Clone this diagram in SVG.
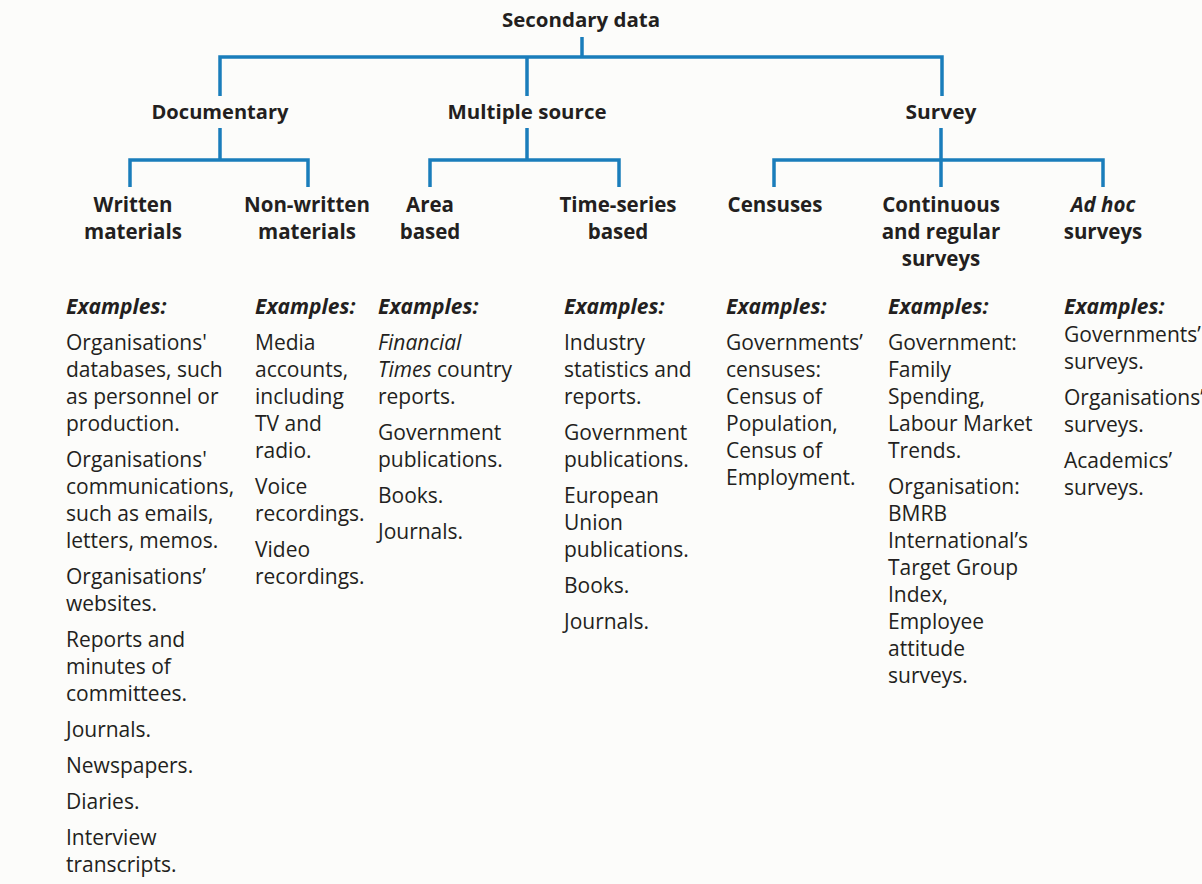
<svg xmlns="http://www.w3.org/2000/svg" width="1202" height="884" viewBox="0 0 1202 884">
  <style>
    text { font-family: "Open Sans", "Noto Sans", "Liberation Sans", sans-serif; fill: #231f20; }
    .h1 { font-size: 20px; font-weight: 700; text-anchor: middle; }
    .h2 { font-size: 20.5px; font-weight: 700; text-anchor: middle; }
    .ex { font-size: 21px; font-weight: 700; font-style: italic; }
    .b { font-size: 21px; }
    .it { font-style: italic; }
    .conn { fill: none; stroke: #1a7dbb; stroke-width: 3.5; stroke-linecap: butt; stroke-linejoin: miter; }
  </style>
  <rect width="1202" height="884" fill="#fcfcfa"/>

  <!-- tree connectors -->
  <g id="connectors" class="conn">
    <path d="M582,37 V57"/>
    <path d="M220,96 V57 H942 V96"/>
    <path d="M527,57 V96"/>
    <path d="M220,128 V160"/>
    <path d="M130,187 V160 H308 V187"/>
    <path d="M527,128 V160"/>
    <path d="M430,187 V160 H619 V187"/>
    <path d="M941,128 V187"/>
    <path d="M774,187 V160 H1103 V187"/>
  </g>

  <!-- root -->
  <g id="secondary-data">
    <text class="h1" x="581" y="27" textLength="158" lengthAdjust="spacingAndGlyphs">Secondary data</text>
  </g>

  <!-- second level -->
  <g id="documentary">
    <text class="h1" x="220" y="119" textLength="137" lengthAdjust="spacingAndGlyphs">Documentary</text>
  </g>
  <g id="multiple-source">
    <text class="h1" x="527" y="119" textLength="159" lengthAdjust="spacingAndGlyphs">Multiple source</text>
  </g>
  <g id="survey">
    <text class="h1" x="941" y="119" textLength="71" lengthAdjust="spacingAndGlyphs">Survey</text>
  </g>

  <!-- Written materials -->
  <g id="written-materials">
    <text class="h2" x="133" y="212">Written</text>
    <text class="h2" x="133" y="239">materials</text>
    <text class="ex" x="66" y="314">Examples:</text>
    <text class="b" x="66">
      <tspan x="66" y="350">Organisations'</tspan>
      <tspan x="66" y="377">databases, such</tspan>
      <tspan x="66" y="404">as personnel or</tspan>
      <tspan x="66" y="431">production.</tspan>
      <tspan x="66" y="467">Organisations'</tspan>
      <tspan x="66" y="494">communications,</tspan>
      <tspan x="66" y="521">such as emails,</tspan>
      <tspan x="66" y="548">letters, memos.</tspan>
      <tspan x="66" y="584">Organisations’</tspan>
      <tspan x="66" y="611">websites.</tspan>
      <tspan x="66" y="647">Reports and</tspan>
      <tspan x="66" y="674">minutes of</tspan>
      <tspan x="66" y="701">committees.</tspan>
      <tspan x="66" y="737">Journals.</tspan>
      <tspan x="66" y="773">Newspapers.</tspan>
      <tspan x="66" y="809">Diaries.</tspan>
      <tspan x="66" y="845">Interview</tspan>
      <tspan x="66" y="872">transcripts.</tspan>
    </text>
  </g>

  <!-- Non-written materials -->
  <g id="non-written-materials">
    <text class="h2" x="307" y="212">Non-written</text>
    <text class="h2" x="307" y="239">materials</text>
    <text class="ex" x="255" y="314">Examples:</text>
    <text class="b">
      <tspan x="255" y="350">Media</tspan>
      <tspan x="255" y="377">accounts,</tspan>
      <tspan x="255" y="404">including</tspan>
      <tspan x="255" y="431">TV and</tspan>
      <tspan x="255" y="458">radio.</tspan>
      <tspan x="255" y="494">Voice</tspan>
      <tspan x="255" y="521">recordings.</tspan>
      <tspan x="255" y="557">Video</tspan>
      <tspan x="255" y="584">recordings.</tspan>
    </text>
  </g>

  <!-- Area based -->
  <g id="area-based">
    <text class="h2" x="430" y="212">Area</text>
    <text class="h2" x="430" y="239">based</text>
    <text class="ex" x="378" y="314">Examples:</text>
    <text class="b">
      <tspan x="378" y="350" class="it">Financial</tspan>
      <tspan x="378" y="377"><tspan class="it">Times</tspan> country</tspan>
      <tspan x="378" y="404">reports.</tspan>
      <tspan x="378" y="440">Government</tspan>
      <tspan x="378" y="467">publications.</tspan>
      <tspan x="378" y="503">Books.</tspan>
      <tspan x="378" y="539">Journals.</tspan>
    </text>
  </g>

  <!-- Time-series based -->
  <g id="time-series-based">
    <text class="h2" x="618" y="212">Time-series</text>
    <text class="h2" x="618" y="239">based</text>
    <text class="ex" x="564" y="314">Examples:</text>
    <text class="b">
      <tspan x="564" y="350">Industry</tspan>
      <tspan x="564" y="377">statistics and</tspan>
      <tspan x="564" y="404">reports.</tspan>
      <tspan x="564" y="440">Government</tspan>
      <tspan x="564" y="467">publications.</tspan>
      <tspan x="564" y="503">European</tspan>
      <tspan x="564" y="530">Union</tspan>
      <tspan x="564" y="557">publications.</tspan>
      <tspan x="564" y="593">Books.</tspan>
      <tspan x="564" y="629">Journals.</tspan>
    </text>
  </g>

  <!-- Censuses -->
  <g id="censuses">
    <text class="h2" x="775" y="212">Censuses</text>
    <text class="ex" x="726" y="314">Examples:</text>
    <text class="b">
      <tspan x="726" y="350">Governments’</tspan>
      <tspan x="726" y="377">censuses:</tspan>
      <tspan x="726" y="404">Census of</tspan>
      <tspan x="726" y="431">Population,</tspan>
      <tspan x="726" y="458">Census of</tspan>
      <tspan x="726" y="485">Employment.</tspan>
    </text>
  </g>

  <!-- Continuous and regular surveys -->
  <g id="continuous-regular-surveys">
    <text class="h2" x="941" y="212">Continuous</text>
    <text class="h2" x="941" y="239">and regular</text>
    <text class="h2" x="941" y="266">surveys</text>
    <text class="ex" x="888" y="314">Examples:</text>
    <text class="b">
      <tspan x="888" y="350">Government:</tspan>
      <tspan x="888" y="377">Family</tspan>
      <tspan x="888" y="404">Spending,</tspan>
      <tspan x="888" y="431">Labour Market</tspan>
      <tspan x="888" y="458">Trends.</tspan>
      <tspan x="888" y="494">Organisation:</tspan>
      <tspan x="888" y="521">BMRB</tspan>
      <tspan x="888" y="548">International’s</tspan>
      <tspan x="888" y="575">Target Group</tspan>
      <tspan x="888" y="602">Index,</tspan>
      <tspan x="888" y="629">Employee</tspan>
      <tspan x="888" y="656">attitude</tspan>
      <tspan x="888" y="683">surveys.</tspan>
    </text>
  </g>

  <!-- Ad hoc surveys -->
  <g id="ad-hoc-surveys">
    <text class="h2 it" x="1103" y="212">Ad hoc</text>
    <text class="h2" x="1103" y="239">surveys</text>
    <text class="ex" x="1064" y="314">Examples:</text>
    <text class="b">
      <tspan x="1064" y="342">Governments’</tspan>
      <tspan x="1064" y="369">surveys.</tspan>
      <tspan x="1064" y="405">Organisations’</tspan>
      <tspan x="1064" y="432">surveys.</tspan>
      <tspan x="1064" y="468">Academics’</tspan>
      <tspan x="1064" y="495">surveys.</tspan>
    </text>
  </g>
</svg>
